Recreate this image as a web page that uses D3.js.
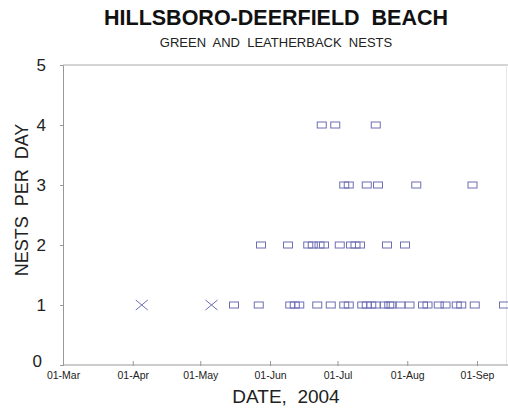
<!DOCTYPE html>
<html><head><meta charset="utf-8">
<script src="https://cdn.jsdelivr.net/npm/d3@7"></script>
<style>body{margin:0;background:#fff}svg{display:block;font-family:"Liberation Sans",Arial,sans-serif}</style>
</head><body><svg id="c" width="508" height="411"></svg>
<script>
const title = "HILLSBORO-DEERFIELD  BEACH";
const subtitle = "GREEN  AND  LEATHERBACK  NESTS";
const xLabel = "DATE,  2004";
const yLabel = "NESTS  PER  DAY";
const xTickDates = ["2004-03-01","2004-04-01","2004-05-01","2004-06-01","2004-07-01","2004-08-01","2004-09-01"];
const xTickLabels = ["01-Mar","01-Apr","01-May","01-Jun","01-Jul","01-Aug","01-Sep"];
const yTicks = [0,1,2,3,4,5];
// leatherback (x markers)
const crossDates = ["2004-04-05","2004-05-06"];
const crossValues = [1,1];
// green (square markers)
const squareDates = [
 "2004-05-16","2004-05-27","2004-06-10","2004-06-12","2004-06-14","2004-06-22","2004-06-28",
 "2004-07-04","2004-07-06","2004-07-12","2004-07-14","2004-07-16","2004-07-18","2004-07-22","2004-07-24","2004-07-25",
 "2004-07-29","2004-08-02","2004-08-08","2004-08-10","2004-08-15","2004-08-18","2004-08-23","2004-08-25","2004-08-31","2004-09-13",
 "2004-05-28","2004-06-09","2004-06-18","2004-06-20","2004-06-23","2004-06-25","2004-07-02","2004-07-07","2004-07-09","2004-07-11","2004-07-23","2004-07-31",
 "2004-07-04","2004-07-06","2004-07-14","2004-07-19","2004-08-05","2004-08-30",
 "2004-06-24","2004-06-30","2004-07-18"];
const squareValues = [
 1,1,1,1,1,1,1,
 1,1,1,1,1,1,1,1,1,
 1,1,1,1,1,1,1,1,1,1,
 2,2,2,2,2,2,2,2,2,2,2,2,
 3,3,3,3,3,3,
 4,4,4];

const parse = d3.timeParse("%Y-%m-%d");
const svg = d3.select("#c");
const L = 63, R = 508.5, T = 65, B = 365;
const x = d3.scaleTime().domain([parse("2004-03-01"), parse("2004-09-15")]).range([L, R]);
const y = d3.scaleLinear().domain([0,5]).range([B, T]);
const axisCol = "#999", mk = "#6e6eb4";

// frame
svg.append("line").attr("x1",L).attr("x2",508).attr("y1",T).attr("y2",T).attr("stroke","#aaa");
svg.append("line").attr("x1",506.5).attr("x2",506.5).attr("y1",T).attr("y2",B).attr("stroke","#e8e8e8");

const xa = svg.append("g").attr("transform",`translate(0,${B})`)
  .call(d3.axisBottom(x).tickValues(xTickDates.map(parse)).tickFormat((d,i)=>xTickLabels[i]).tickSizeInner(-4).tickSizeOuter(0).tickPadding(7));
xa.select(".domain").attr("stroke",axisCol).attr("d",`M${L},0H${508}`);
xa.selectAll(".tick line").attr("stroke",axisCol).attr("y1",-4).attr("y2",1);
xa.selectAll(".tick text").attr("font-size",10.5).attr("fill","#222").attr("font-family","Liberation Sans, Arial, sans-serif");

const ya = svg.append("g").attr("transform",`translate(${L},0)`)
  .call(d3.axisLeft(y).tickValues(yTicks).tickFormat(d3.format("d")).tickSize(3).tickSizeOuter(0).tickPadding(14));
ya.select(".domain").attr("stroke",axisCol);
ya.selectAll(".tick line").attr("stroke",axisCol);
ya.selectAll(".tick text").attr("font-size",17).attr("fill","#222").attr("font-family","Liberation Sans, Arial, sans-serif")
  .attr("dy", d => d===0 ? "0.1em" : "0.35em").attr("dx", d => d===0 ? "-4" : "0");

// squares
svg.append("g").selectAll("rect").data(squareDates.map((d,i)=>({d:parse(d),v:squareValues[i]})))
  .join("rect").attr("x",p=>x(p.d)-4.5).attr("y",p=>y(p.v)-3).attr("width",9).attr("height",6)
  .attr("fill","none").attr("stroke",mk).attr("stroke-width",1);
// crosses
svg.append("g").selectAll("path").data(crossDates.map((d,i)=>({d:parse(d),v:crossValues[i]})))
  .join("path").attr("d",p=>{const cx=x(p.d),cy=y(p.v);return `M${cx-6},${cy-5}L${cx+6},${cy+5}M${cx-6},${cy+5}L${cx+6},${cy-5}`;})
  .attr("stroke",mk).attr("stroke-width",1).attr("fill","none");

svg.append("text").attr("x",276).attr("y",25).attr("text-anchor","middle").attr("font-size",21.5).attr("font-weight","bold")
  .attr("fill","#111").style("white-space","pre").text(title);
svg.append("text").attr("x",276).attr("y",47).attr("text-anchor","middle").attr("font-size",13)
  .attr("fill","#222").style("white-space","pre").text(subtitle);
svg.append("text").attr("x",286).attr("y",403).attr("text-anchor","middle").attr("font-size",19)
  .attr("fill","#222").style("white-space","pre").text(xLabel);
svg.append("text").attr("transform","translate(28,200) rotate(-90)").attr("text-anchor","middle").attr("font-size",18)
  .attr("fill","#222").style("white-space","pre").text(yLabel);
</script></body></html>
